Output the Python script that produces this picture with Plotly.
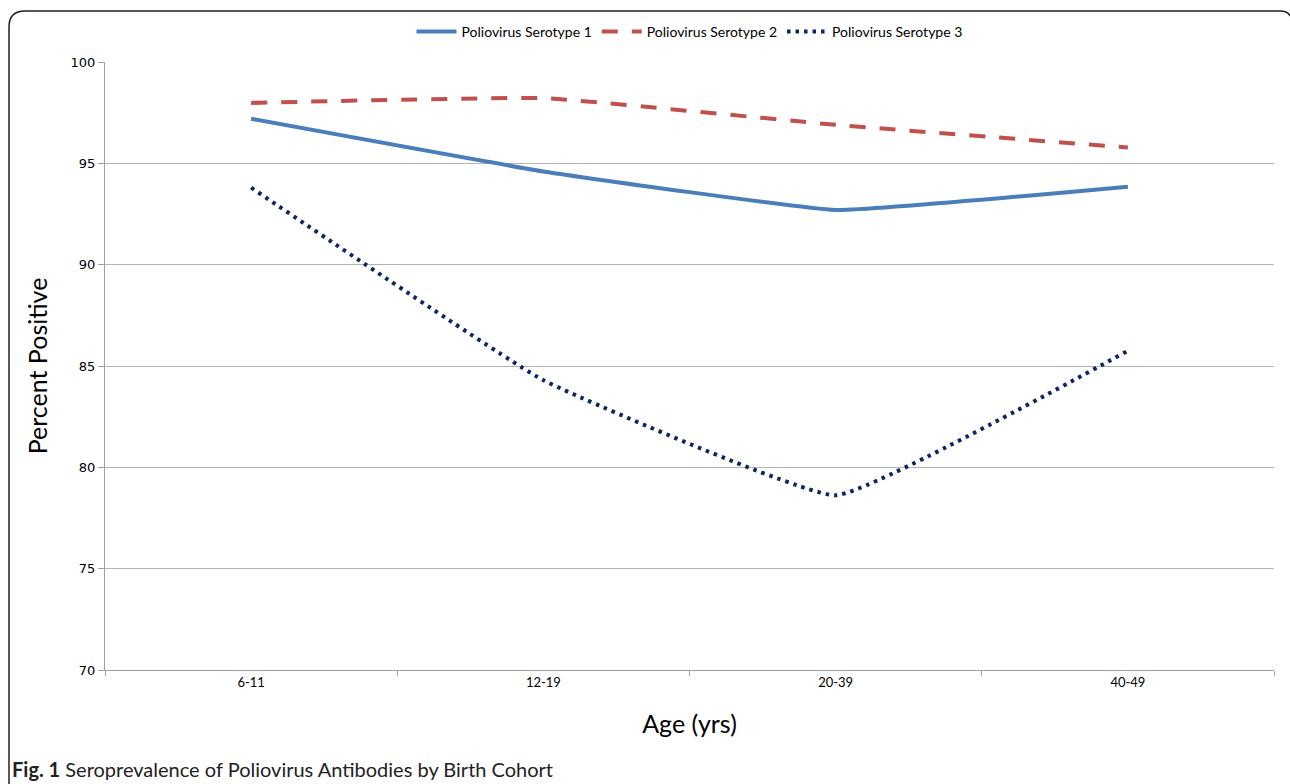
import plotly.graph_objects as go

# Age groups (birth cohorts) and percent seropositive per poliovirus serotype
age_groups = ["6-11", "12-19", "20-39", "40-49"]
serotype_1 = [97.2, 94.6, 92.7, 93.85]
serotype_2 = [97.98, 98.22, 96.9, 95.78]
serotype_3 = [93.8, 84.3, 78.62, 85.75]

y_ticks = [70, 75, 80, 85, 90, 95, 100]

W, H = 1290, 784
L, R, T, B = 105, 16, 62, 114
PW, PH = W - L - R, H - T - B


def px(x):
    return (x - L) / PW


def py(y):
    return (H - B - y) / PH


FONT = "Lato, 'Open Sans', sans-serif"
SMOOTH = 0.3

fig = go.Figure()
fig.add_trace(go.Scatter(
    x=age_groups, y=serotype_1, name="Poliovirus Serotype 1", mode="lines",
    line=dict(color="#4a7ebb", width=4, shape="spline", smoothing=SMOOTH),
))
fig.add_trace(go.Scatter(
    x=age_groups, y=serotype_2, name="Poliovirus Serotype 2", mode="lines",
    line=dict(color="#c0504d", width=4, dash="16px,14px", shape="spline", smoothing=SMOOTH),
))
fig.add_trace(go.Scatter(
    x=age_groups, y=serotype_3, name="Poliovirus Serotype 3", mode="lines",
    line=dict(color="#0f2462", width=4, dash="3.5px,5px", shape="spline", smoothing=SMOOTH),
))

# Rounded frame drawn along the top and left edges of the figure
frame = (
    f"M {px(9)},{py(800)} L {px(9)},{py(27)} "
    f"Q {px(9)},{py(11)} {px(25)},{py(11)} "
    f"L {px(1280)},{py(11)} Q {px(1288)},{py(11)} {px(1290)},{py(16)}"
)

fig.update_layout(
    width=W, height=H,
    margin=dict(l=L, r=R, t=T, b=B),
    paper_bgcolor="white", plot_bgcolor="white",
    font=dict(family=FONT, color="#000000"),
    showlegend=True,
    legend=dict(
        orientation="h", x=0.5, xanchor="center", y=py(32), yanchor="middle",
        font=dict(size=14, family=FONT), itemwidth=40, traceorder="normal",
        bgcolor="rgba(0,0,0,0)",
    ),
    xaxis=dict(
        type="category", range=[-0.5, 3.5],
        showgrid=False, showline=True, linecolor="#a0a0a0", linewidth=1,
        ticks="outside", tickson="boundaries", ticklen=5, tickcolor="#a0a0a0",
        tickfont=dict(size=13, family=FONT),
        title=dict(text="Age (yrs)", font=dict(size=25, family=FONT), standoff=26),
        zeroline=False, fixedrange=True,
    ),
    yaxis=dict(
        range=[70, 100], tickvals=y_ticks,
        showgrid=True, gridcolor="#b3b3b3", gridwidth=1,
        showline=True, linecolor="#a0a0a0", linewidth=1,
        ticks="outside", ticklen=6, tickcolor="#a0a0a0",
        tickfont=dict(size=13, family="'DejaVu Sans', sans-serif"),
        title=dict(text="Percent Positive", font=dict(size=25, family=FONT), standoff=15),
        zeroline=False, fixedrange=True,
    ),
    shapes=[dict(
        type="path", xref="paper", yref="paper", path=frame,
        line=dict(color="#222222", width=1.5), layer="above",
    )],
    annotations=[dict(
        xref="paper", yref="paper", x=px(10), y=py(769),
        xanchor="left", yanchor="middle", showarrow=False,
        text="<b>Fig. 1</b> Seroprevalence of Poliovirus Antibodies by Birth Cohort",
        font=dict(size=20, family=FONT, color="#222222"),
    )],
)

fig.write_html("out.html")
